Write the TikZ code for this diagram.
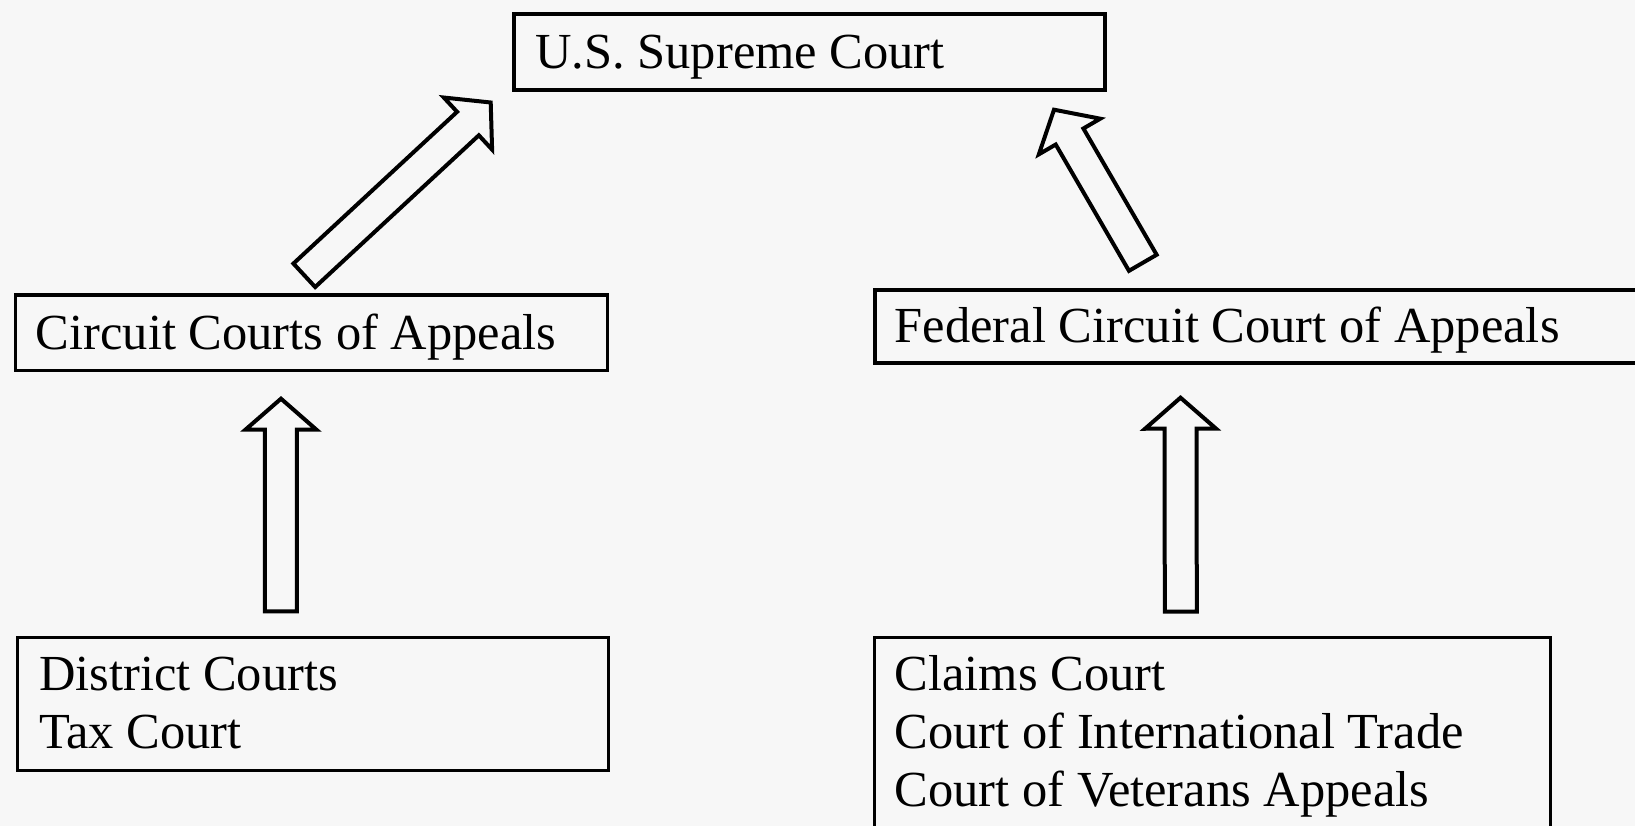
\documentclass[tikz,border=0pt]{standalone}
\usepackage{fontspec}
\setmainfont{Liberation Serif}
\usetikzlibrary{calc}
\definecolor{bgc}{HTML}{F7F7F7}
\newcommand\ctL{31pt}
\newcommand\ctW{16pt}
\newcommand\ctH{35.5pt}
\newcommand\blockarrow[2]{%
  \path ($(#2)!\ctL!(#1)$) coordinate (hb-#1);
  \draw[blockarr] ($(#1)!\ctW!90:(#2)$) -- ($(hb-#1)!\ctW!90:(#2)$) -- ($(hb-#1)!\ctH!90:(#2)$) -- (#2)
     -- ($(hb-#1)!\ctH!-90:(#2)$) -- ($(hb-#1)!\ctW!-90:(#2)$) -- ($(#1)!\ctW!-90:(#2)$) -- cycle;
}
\tikzset{
  court/.style={draw=black, line width=#1, rectangle, inner sep=0pt, outer sep=0pt, anchor=north west},
  courttext/.style={anchor=base west, inner sep=0pt, font=\fontsize{50.5}{57.6}\selectfont},
  blockarr/.style={draw=black, line width=4pt, line join=miter, miter limit=10},
}
\begin{document}
\begin{tikzpicture}[x=1pt,y=-1pt]
\clip (0,0) rectangle (1635,826);
\fill[bgc] (0,0) rectangle (1635,826);

% boxes
\node[court=4pt, minimum width=591pt, minimum height=76pt] (sup) at (513.5,13.7) {};
\node[court=3.3pt, minimum width=592pt, minimum height=75.7pt] (cca) at (15.4,295) {};
\node[court=3.5pt, minimum width=785pt, minimum height=73.2pt] (fca) at (875,290) {};
\node[court=2.8pt, minimum width=591pt, minimum height=133.4pt] (dist) at (17.5,637.4) {};
\node[court=2.8pt, minimum width=675.8pt, minimum height=220pt] (claims) at (874.7,637.4) {};

% texts
\node[courttext] (supT) at (535,68.3) {U.S. Supreme Court};
\node[courttext] (ccaT) at (35.6,349) {Circuit Courts of Appeals};
\node[courttext] (fcaT) at (894.6,342) {Federal Circuit Court of Appeals};
\node[courttext] (distT) at (38.8,690.7) {\begin{tabular}[t]{@{}l@{}}District Courts\\Tax Court\end{tabular}};
\node[courttext] (claimsT) at (894.6,690.9) {\begin{tabular}[t]{@{}l@{}}Claims Court\\Court of International Trade\\Court of Veterans Appeals\end{tabular}};

% arrow ends
\coordinate (lvTail) at (280.8,611.3);
\coordinate (lvTip) at (281,398.7);
\coordinate (rvTail) at (1180.8,611.6);
\coordinate (rvTip) at (1180.5,397.7);
\coordinate (ldTail) at (304.3,275.3);
\coordinate (ldTip) at (490.7,102.5);
\coordinate (rdTail) at (1142.8,262.8);
\coordinate (rdTip) at (1054,109.7);

\blockarrow{lvTail}{lvTip}
\blockarrow{rvTail}{rvTip}
\blockarrow{ldTail}{ldTip}
\blockarrow{rdTail}{rdTip}
\end{tikzpicture}
\end{document}
